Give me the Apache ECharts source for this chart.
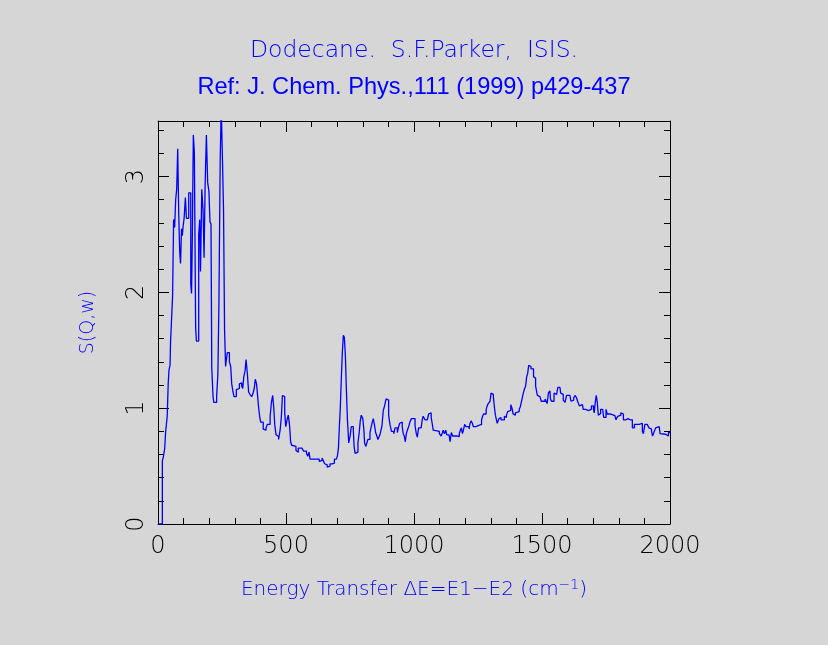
<!DOCTYPE html>
<html>
<head>
<meta charset="utf-8">
<script src="https://cdn.jsdelivr.net/npm/echarts@6/dist/echarts.min.js"></script>
<style>
  html, body { margin: 0; padding: 0; background: #d6d6d6; }
  #main { width: 828px; height: 645px; }
</style>
</head>
<body>
<div id="main"></div>
<script>
// energy transfer (cm-1) where each histogram step begins
var energy = [
  0, 17, 21, 26, 30, 36, 40, 43, 47, 49, 53, 57, 61, 65, 69, 73, 77, 81, 85, 88,
  92, 95, 98, 102, 107, 111, 120, 128, 131, 134, 138, 142, 147, 150, 159, 163, 166, 171, 176, 180,
  184, 189, 194, 199, 203, 207, 210, 215, 218, 229, 234, 238, 243, 247, 252, 256, 260, 264, 267, 271,
  279, 284, 288, 293, 297, 306, 311, 318, 322, 327, 331, 335, 340, 344, 349, 354, 359, 366, 370, 376,
  380, 385, 392, 397, 401, 411, 418, 422, 427, 438, 443, 448, 452, 456, 461, 467, 471, 477, 482, 486,
  492, 495, 499, 504, 509, 514, 518, 522, 529, 539, 543, 548, 563, 568, 580, 585, 590, 594, 604, 610,
  630, 635, 641, 646, 651, 656, 661, 668, 672, 681, 685, 689, 697, 701, 705, 708, 712, 716, 720, 724,
  728, 732, 736, 740, 745, 751, 755, 763, 766, 770, 774, 781, 786, 790, 794, 800, 804, 807, 812, 816,
  820, 828, 833, 837, 841, 846, 850, 855, 859, 864, 868, 875, 880, 885, 891, 897, 901, 906, 912, 921,
  926, 935, 940, 944, 948, 954, 958, 962, 966, 970, 974, 979, 984, 990, 1004, 1009, 1013, 1018, 1028, 1032,
  1036, 1043, 1052, 1057, 1061, 1067, 1071, 1075, 1079, 1099, 1106, 1111, 1114, 1119, 1124, 1128, 1137, 1141, 1146, 1151,
  1156, 1167, 1177, 1181, 1185, 1189, 1193, 1198, 1203, 1215, 1219, 1223, 1228, 1232, 1241, 1251, 1264, 1268, 1272, 1282,
  1286, 1290, 1297, 1301, 1306, 1310, 1314, 1318, 1322, 1325, 1332, 1336, 1340, 1353, 1357, 1361, 1366, 1370, 1378, 1383,
  1387, 1392, 1396, 1402, 1411, 1415, 1419, 1423, 1427, 1432, 1436, 1440, 1444, 1448, 1453, 1457, 1467, 1471, 1475, 1482,
  1486, 1492, 1497, 1512, 1516, 1520, 1525, 1531, 1533, 1537, 1547, 1552, 1557, 1562, 1570, 1573, 1577, 1583, 1590, 1596,
  1609, 1613, 1619, 1624, 1629, 1635, 1639, 1646, 1652, 1658, 1661, 1671, 1680, 1687, 1693, 1701, 1704, 1708, 1712, 1716,
  1720, 1724, 1729, 1737, 1741, 1750, 1755, 1766, 1772, 1785, 1789, 1796, 1802, 1808, 1815, 1818, 1828, 1836, 1844, 1850,
  1853, 1861, 1880, 1892, 1896, 1902, 1911, 1918, 1924, 1928, 1932, 1937, 1944, 1950, 1958, 1961, 1967, 1983, 1987, 1994,
  2000
];

// S(Q,w)
var sqw = [
  0, 0.545, 0.58, 0.65, 0.80, 0.93, 1.22, 1.33, 1.37, 1.57, 1.77, 1.97, 2.63, 2.56, 2.80, 2.89, 3.24, 2.67, 2.34, 2.25,
  2.55, 2.49, 2.57, 2.64, 2.82, 2.64, 2.86, 2.07, 1.99, 2.46, 3.36, 3.21, 1.70, 1.58, 2.50, 2.63, 2.18, 2.89, 2.71, 2.30,
  2.92, 3.36, 2.95, 2.87, 2.61, 2.59, 1.35, 1.10, 1.05, 1.10, 1.30, 1.91, 3.15, 3.60, 3.13, 2.71, 1.68, 1.36, 1.42, 1.48,
  1.40, 1.36, 1.21, 1.14, 1.10, 1.16, 1.17, 1.21, 1.22, 1.19, 1.17, 1.27, 1.32, 1.42, 1.30, 1.14, 1.12, 1.10, 1.12, 1.17,
  1.25, 1.21, 1.03, 0.93, 0.88, 0.82, 0.81, 0.83, 0.86, 0.93, 1.05, 1.11, 1.01, 0.86, 0.77, 0.755, 0.73, 0.81, 0.93, 1.11,
  1.10, 0.96, 0.84, 0.90, 0.94, 0.85, 0.71, 0.68, 0.67, 0.634, 0.62, 0.655, 0.645, 0.63, 0.61, 0.585, 0.62, 0.56, 0.57, 0.56,
  0.54, 0.55, 0.57, 0.545, 0.52, 0.51, 0.49, 0.50, 0.52, 0.51, 0.525, 0.56, 0.57, 0.59, 0.66, 0.82, 1.00, 1.25, 1.48, 1.63,
  1.61, 1.45, 1.15, 0.90, 0.70, 0.77, 0.84, 0.81, 0.67, 0.61, 0.62, 0.70, 0.79, 0.89, 0.94, 0.91, 0.82, 0.70, 0.67, 0.70,
  0.73, 0.79, 0.84, 0.88, 0.91, 0.85, 0.79, 0.76, 0.73, 0.755, 0.78, 0.85, 0.98, 1.02, 1.08, 1.07, 0.94, 0.86, 0.80, 0.78,
  0.83, 0.79, 0.84, 0.87, 0.88, 0.84, 0.78, 0.76, 0.71, 0.78, 0.81, 0.84, 0.88, 0.91, 0.85, 0.78, 0.75, 0.83, 0.84, 0.90,
  0.93, 0.90, 0.90, 0.95, 0.96, 0.92, 0.87, 0.81, 0.80, 0.78, 0.76, 0.79, 0.81, 0.78, 0.81, 0.77, 0.76, 0.71, 0.79, 0.76,
  0.76, 0.755, 0.78, 0.81, 0.83, 0.78, 0.81, 0.86, 0.84, 0.82, 0.87, 0.89, 0.87, 0.84, 0.85, 0.86, 0.90, 0.93, 0.95, 0.99,
  1.02, 1.04, 1.06, 1.13, 1.12, 1.10, 1.01, 0.94, 0.90, 0.87, 0.91, 0.92, 0.90, 0.93, 0.92, 0.94, 0.97, 0.98, 1.03, 1.00,
  0.95, 0.94, 0.96, 0.97, 0.99, 1.01, 1.05, 1.09, 1.13, 1.17, 1.19, 1.27, 1.30, 1.37, 1.36, 1.34, 1.27, 1.26, 1.19, 1.11,
  1.10, 1.09, 1.06, 1.08, 1.06, 1.04, 1.13, 1.15, 1.08, 1.06, 1.13, 1.12, 1.11, 1.18, 1.17, 1.13, 1.12, 1.07, 1.05, 1.11,
  1.10, 1.06, 1.07, 1.09, 1.11, 1.09, 1.06, 1.02, 1.03, 1.04, 0.99, 0.98, 0.977, 0.99, 1.02, 0.99, 0.96, 1.05, 1.11, 1.05,
  0.94, 0.955, 0.99, 0.98, 0.92, 0.99, 0.95, 0.94, 0.935, 0.93, 0.90, 0.93, 0.94, 0.96, 0.95, 0.90, 0.91, 0.90, 0.91, 0.90,
  0.83, 0.86, 0.87, 0.80, 0.78, 0.86, 0.85, 0.83, 0.82, 0.80, 0.76, 0.79, 0.83, 0.84, 0.84, 0.78, 0.775, 0.77, 0.76, 0.79,
  0.79
];

var xTicks = [0, 500, 1000, 1500, 2000];
var yTicks = [0, 1, 2, 3];
var yTop = 3.48;

var myChart = echarts.init(document.getElementById('main'));

var thin = 'DejaVu Sans';
var points = energy.map(function (e, i) { return [e, sqw[i]]; });

function xAx(pos, showLabel) {
  return {
    type: 'value', position: pos, min: xTicks[0], max: xTicks[xTicks.length - 1],
    interval: xTicks[1] - xTicks[0],
    axisLine: { show: true, onZero: false, lineStyle: { color: '#000', width: 1 } },
    axisTick: { show: true, inside: true, length: 11, lineStyle: { color: '#000' } },
    minorTick: { show: true, splitNumber: 5, length: 6, lineStyle: { color: '#000' } },
    axisLabel: {
      show: showLabel, color: '#000', fontFamily: thin, fontWeight: 200, fontSize: 24, margin: 11,
      formatter: function (v) { return String(v); }
    },
    splitLine: { show: false }
  };
}

function yAx(pos, step, len, showLabel) {
  return {
    type: 'value', position: pos, min: 0, max: yTop, interval: step,
    axisLine: { show: len > 8, onZero: false, lineStyle: { color: '#000', width: 1 } },
    axisTick: { show: true, inside: true, length: len, lineStyle: { color: '#000' } },
    axisLabel: {
      show: showLabel, color: '#000', fontFamily: thin, fontWeight: 200, fontSize: 24,
      rotate: 90, margin: 9, showMaxLabel: false,
      formatter: function (v) { return yTicks.indexOf(v) >= 0 ? String(v) : ''; }
    },
    splitLine: { show: false }
  };
}

var option = {
  backgroundColor: '#d6d6d6',
  animation: false,
  title: [
    {
      text: 'Dodecane.  S.F.Parker,  ISIS.', left: 'center', top: 34,
      textStyle: { color: '#0000ff', fontFamily: thin, fontWeight: 200, fontSize: 23.5 }
    },
    {
      text: 'Ref: J. Chem. Phys.,111 (1999) p429-437', left: 'center', top: 70,
      textStyle: { color: '#0000ff', fontFamily: 'Liberation Sans', fontWeight: 'normal', fontSize: 23.6 }
    }
  ],
  grid: { left: 158, right: 158, top: 121, bottom: 121 },
  xAxis: [
    Object.assign(xAx('bottom', true), {
      name: 'Energy Transfer ΔE=E1−E2 (cm{sup|−1})',
      nameLocation: 'middle', nameGap: 54,
      nameTextStyle: {
        color: '#0000ff', fontFamily: thin, fontWeight: 200, fontSize: 20,
        rich: { sup: { color: '#0000ff', fontFamily: thin, fontWeight: 200, fontSize: 14, verticalAlign: 'top', padding: [0, 0, 10, 0] } }
      }
    }),
    xAx('top', false)
  ],
  yAxis: [
    Object.assign(yAx('left', 1, 11, true), {
      name: 'S(Q,w)', nameLocation: 'middle', nameGap: 60, nameRotate: 90,
      nameTextStyle: { color: '#0000ff', fontFamily: thin, fontWeight: 200, fontSize: 19 }
    }),
    yAx('left', 0.2, 6, false),
    yAx('right', 1, 11, false),
    yAx('right', 0.2, 6, false)
  ],
  series: [{
    type: 'line',
    step: 'end',
    xAxisIndex: 0,
    yAxisIndex: 0,
    data: points,
    showSymbol: false,
    clip: true,
    lineStyle: { color: '#0000ff', width: 1.3 }
  }]
};

myChart.setOption(option);
</script>
</body>
</html>
